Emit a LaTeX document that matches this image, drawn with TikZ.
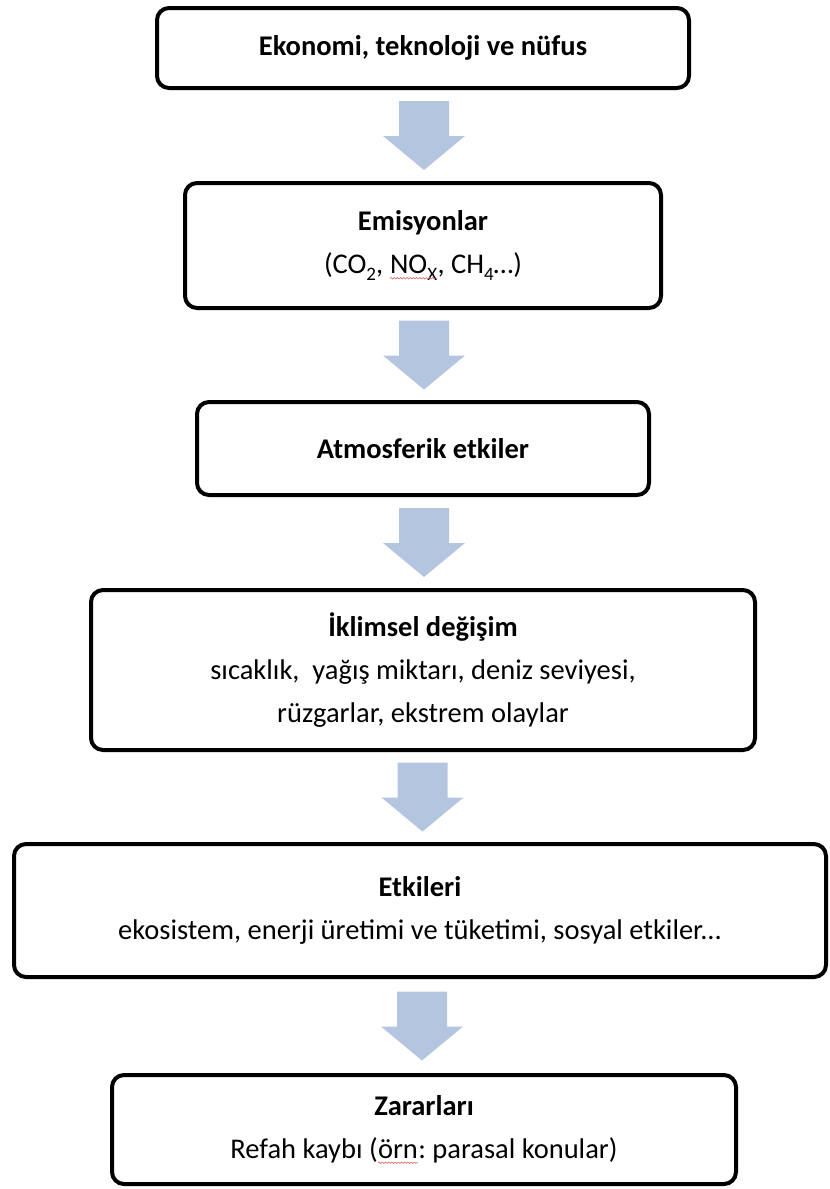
\documentclass[tikz,border=0pt]{standalone}
\usepackage{fontspec}
\setmainfont{Carlito}
\usetikzlibrary{calc,decorations.pathmorphing}
\definecolor{arrowblue}{RGB}{180,197,223}
\definecolor{spellred}{RGB}{230,110,110}
\frenchspacing
\newcommand{\lowsub}[1]{\raisebox{-6.5pt}{\fontsize{19}{19}\selectfont #1}}
\newcommand{\wavyul}[1]{\tikz[baseline=(w.base), x=1pt, y=1pt, sharp corners]{%
  \node[inner sep=0pt, outer sep=0pt, draw=none, minimum width=0pt,
    minimum height=0pt, align=left] (w) {#1};
  \draw[spellred, line width=0.7pt, decorate,
    decoration={snake, amplitude=0.7pt, segment length=3.2pt}]
    ([yshift=-4.5pt]w.base west) -- ([yshift=-4.5pt]w.base east);}}
\tikzset{
  box/.style={draw=black, line width=4pt, rounded corners=12pt, align=center,
    inner sep=0pt, font=\fontsize{28.5}{43}\selectfont},
  blockarrow/.pic={\fill[arrowblue] (-25,-34.5) -- (25,-34.5) -- (25,0.5) -- (41,0.5)
    -- (0,34.5) -- (-41,0.5) -- (-25,0.5) -- cycle;}
}
\begin{document}
\begin{tikzpicture}[x=1pt,y=-1pt]
\useasboundingbox (0,0) rectangle (830,1189);
\node[box, minimum width=532pt, minimum height=80pt] (b1) at (423,48)
  {\textbf{Ekonomi, teknoloji ve nüfus}};
\node[box, minimum width=476pt, minimum height=125pt] (b2) at (423,245.5)
  {\textbf{Emisyonlar}\\(CO\lowsub{2}, \wavyul{NO\lowsub{X}}, CH\lowsub{4}…)};
\node[box, minimum width=452pt, minimum height=93pt] (b3) at (423,448.5)
  {\textbf{Atmosferik etkiler}};
\node[box, minimum width=664pt, minimum height=160pt] (b4) at (423,670)
  {\textbf{İklimsel değişim}\\sıcaklık, \ yağış miktarı, deniz seviyesi,\\rüzgarlar, ekstrem olaylar};
\node[box, minimum width=812pt, minimum height=133pt] (b5) at (420,910.5)
  {\textbf{Etkileri}\\ekosistem, enerji üretimi ve tüketimi, sosyal etkiler...};
\node[box, minimum width=624pt, minimum height=109pt] (b6) at (424,1129.5)
  {\textbf{Zararları}\\Refah kaybı (\wavyul{örn}: parasal konular)};
\pic (a1) at ($(b1.south)!0.5!(b2.north)+(1,0)$) {blockarrow};
\pic (a2) at ($(b2.south)!0.5!(b3.north)+(1,0)$) {blockarrow};
\pic (a3) at ($(b3.south)!0.5!(b4.north)+(1,0)$) {blockarrow};
\pic (a4) at ($(b4.south)!0.5!(b5.north)+(1,0)$) {blockarrow};
\pic (a5) at ($(b5.south)!0.5!(b6.north)+(0,0)$) {blockarrow};
\end{tikzpicture}
\end{document}
